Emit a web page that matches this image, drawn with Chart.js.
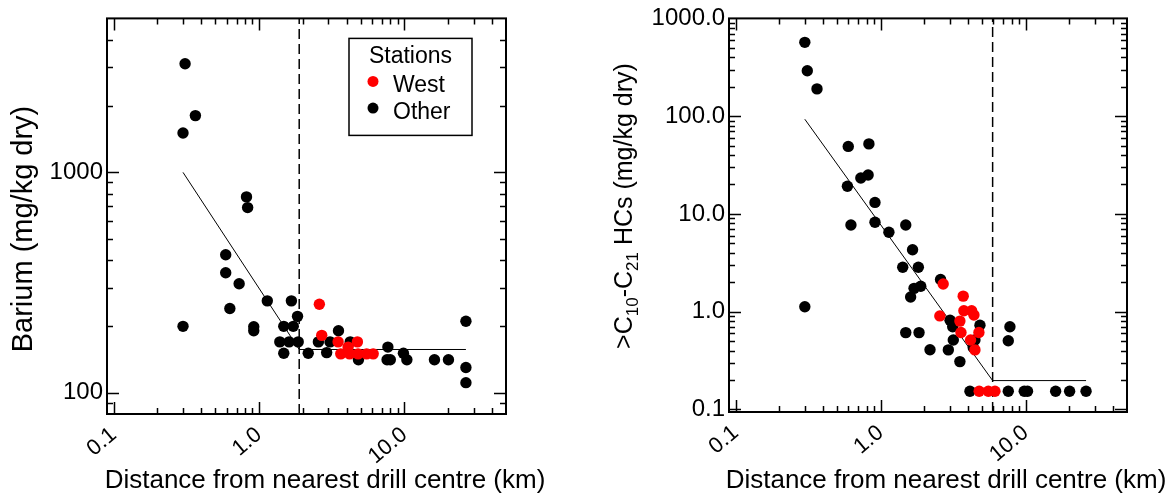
<!DOCTYPE html>
<html>
<head>
<meta charset="utf-8">
<title>Barium and hydrocarbons vs distance</title>
<script src="https://cdn.jsdelivr.net/npm/chart.js@4.4.1/dist/chart.umd.min.js"></script>
<style>
  html, body { margin: 0; padding: 0; background: #fff; }
  #wrap { position: relative; width: 1168px; height: 495px; overflow: hidden; }
  canvas { position: absolute; top: 0; }
  #barium { left: 0; }
  #hcs { left: 584px; }
</style>
</head>
<body>
<div id="wrap">
  <canvas id="barium" width="584" height="495"></canvas>
  <canvas id="hcs" width="584" height="495"></canvas>
</div>
<script>
// Barium (mg/kg dry) against distance (km)
var baWestX = [2.6, 2.7, 3.5, 3.65, 4.1, 4.2, 4.75, 4.8, 5.5, 6.1];
var baWestY = [252, 182, 170, 150, 161, 150, 170, 150, 150, 150];
var baOtherX = [0.30, 0.31, 0.365, 0.30, 0.59, 0.59, 0.63, 0.73, 0.82, 0.835, 0.92, 0.92,
  1.14, 1.39, 1.48, 1.48, 1.61, 1.67, 1.72, 1.84, 1.86, 2.18, 2.56, 2.92, 3.08, 3.52,
  4.24, 4.83, 7.7, 7.6, 8.0, 9.85, 10.4, 16.1, 20.1, 26.5, 26.5, 26.5];
var baOtherY = [1510, 3110, 1810, 200, 423, 350, 241, 312, 774, 692, 199, 191,
  261, 170, 200, 151, 170, 261, 200, 222, 170, 151, 170, 152, 170, 191,
  170, 141, 161, 141, 141, 151, 141, 141, 141, 211, 130, 111];
var baFitX = [0.3, 1.89, 26.5];
var baFitY = [1000, 157, 157];
var baCut = 1.89;

// >C10-C21 hydrocarbons (mg/kg dry) against distance (km)
var hcWestX = [2.70, 2.56, 3.52, 3.71, 3.75, 4.24, 4.40, 3.58, 4.76, 4.17, 4.47, 4.78, 5.53, 6.14];
var hcWestY = [1.92, 0.904, 0.80, 1.44, 1.02, 1.02, 0.925, 0.612, 0.612, 0.513, 0.406, 0.153, 0.153, 0.153];
var hcOtherX = [0.30, 0.312, 0.364, 0.598, 0.83, 0.73, 0.82, 0.59, 0.914, 0.624, 0.914, 1.14,
  1.49, 1.66, 1.42, 1.82, 1.70, 1.89, 1.61, 2.59, 0.30, 1.49, 1.84, 2.19, 2.93, 3.01,
  3.14, 3.17, 3.52, 4.84, 4.47, 4.35, 7.79, 7.59, 4.13, 7.59, 9.78, 10.3, 16.1, 20.1, 26.1];
var hcOtherY = [569, 291, 190, 49, 52, 23.3, 25, 19.2, 13.1, 7.7, 8.2, 6.49,
  7.7, 4.3, 2.84, 2.84, 1.73, 1.82, 1.41, 2.13, 1.12, 0.61, 0.61, 0.408, 0.406, 0.818,
  0.70, 0.513, 0.308, 0.727, 0.513, 0.43, 0.70, 0.504, 0.153, 0.153, 0.153, 0.153, 0.153, 0.153, 0.153];
var hcFitX = [0.3, 5.92, 26.1];
var hcFitY = [93, 0.197, 0.197];
var hcCut = 5.92;

// tick labels
var distTicks = [0.1, 1, 10];
var distLabels = ['0.1', '1.0', '10.0'];
var baTicks = [100, 1000];
var baLabels = ['100', '1000'];
var hcTicks = [0.1, 1, 10, 100, 1000];
var hcLabels = ['0.1', '1.0', '10.0', '100.0', '1000.0'];

var FONT = "'Liberation Sans', Arial, Helvetica, sans-serif";
var RED = '#ff0000';

function pts(xs, ys) {
  return xs.map(function (x, i) { return { x: x, y: ys[i] }; });
}

// every 1..9 x 10^n value inside the axis range, majors flagged
function logMarks(min, max) {
  var out = [];
  for (var e = Math.floor(Math.log10(min)); e <= Math.ceil(Math.log10(max)); e++) {
    for (var m = 1; m < 10; m++) {
      var v = m * Math.pow(10, e);
      if (v > min * 1.001 && v < max * 0.999) out.push({ v: v, major: m === 1 });
    }
  }
  return out;
}

// box round the plot area with inward tick marks on all four sides
var framePlugin = {
  id: 'frame',
  afterDraw: function (chart) {
    var a = chart.chartArea, ctx = chart.ctx;
    var xs = chart.scales.x, ys = chart.scales.y;
    ctx.save();
    ctx.strokeStyle = '#000';
    ctx.lineWidth = 1.5;
    ctx.beginPath();
    logMarks(xs.min, xs.max).forEach(function (t) {
      var p = Math.round(xs.getPixelForValue(t.v)) + 0.5;
      var len = t.major ? 12 : 6;
      ctx.moveTo(p, a.bottom); ctx.lineTo(p, a.bottom - len);
      ctx.moveTo(p, a.top); ctx.lineTo(p, a.top + len);
    });
    logMarks(ys.min, ys.max).forEach(function (t) {
      var p = Math.round(ys.getPixelForValue(t.v)) + 0.5;
      var len = t.major ? 12 : 6;
      ctx.moveTo(a.left, p); ctx.lineTo(a.left + len, p);
      ctx.moveTo(a.right, p); ctx.lineTo(a.right - len, p);
    });
    ctx.stroke();
    ctx.lineWidth = 2;
    ctx.strokeRect(a.left, a.top, a.right - a.left, a.bottom - a.top);
    ctx.restore();
  }
};

// framed legend with a title, built from the flagged datasets
var legendPlugin = {
  id: 'stationLegend',
  afterDraw: function (chart, args, o) {
    if (!o.show) return;
    var ctx = chart.ctx, a = chart.chartArea;
    var x = a.right - o.right - o.width, y = a.top + o.top;
    ctx.save();
    ctx.lineWidth = 1.5;
    ctx.strokeStyle = '#000';
    ctx.strokeRect(x, y, o.width, o.height);
    ctx.font = o.size + 'px ' + FONT;
    ctx.fillStyle = '#000';
    ctx.textBaseline = 'alphabetic';
    ctx.textAlign = 'center';
    ctx.fillText(o.title, x + o.width / 2, y + 25);
    ctx.textAlign = 'left';
    chart.data.datasets.filter(function (d) { return d.inLegend; }).forEach(function (d, i) {
      var cy = y + 43 + i * 26.7;
      ctx.fillStyle = d.backgroundColor;
      ctx.beginPath();
      ctx.arc(x + 24, cy, 5.5, 0, Math.PI * 2);
      ctx.fill();
      ctx.fillStyle = '#000';
      ctx.fillText(d.label, x + 44, cy + 10.7);
    });
    ctx.restore();
  }
};

// axis titles; the y title may carry subscripts
var titlePlugin = {
  id: 'axisTitles',
  afterDraw: function (chart, args, o) {
    var ctx = chart.ctx;
    ctx.save();
    ctx.fillStyle = '#000';
    ctx.textBaseline = 'alphabetic';
    ctx.font = o.xSize + 'px ' + FONT;
    ctx.textAlign = 'center';
    ctx.fillText(o.xText, o.xCenter, o.xBaseline);

    var big = o.ySize + 'px ' + FONT;
    var small = Math.round(o.ySize * 0.68) + 'px ' + FONT;
    var total = 0;
    o.yParts.forEach(function (p) {
      ctx.font = p.sub ? small : big;
      p.w = ctx.measureText(p.t).width;
      total += p.w;
    });
    ctx.translate(o.yBaseline, o.yCenter);
    ctx.rotate(-Math.PI / 2);
    ctx.textAlign = 'left';
    var cx = -total / 2;
    o.yParts.forEach(function (p) {
      ctx.font = p.sub ? small : big;
      ctx.fillText(p.t, cx, p.sub ? o.ySize * 0.25 : 0);
      cx += p.w;
    });
    ctx.restore();
  }
};

function buildChart(id, c) {
  var dot = { pointRadius: 5.7, pointHoverRadius: 5.7, borderWidth: 0, pointBorderWidth: 0 };
  return new Chart(document.getElementById(id), {
    type: 'scatter',
    data: {
      datasets: [
        Object.assign({ label: 'West', data: pts(c.westX, c.westY), backgroundColor: RED, inLegend: true, order: 0 }, dot),
        Object.assign({ label: 'Other', data: pts(c.otherX, c.otherY), backgroundColor: '#000', inLegend: true, order: 1 }, dot),
        { label: 'fit', data: pts(c.fitX, c.fitY), showLine: true, borderColor: '#000', borderWidth: 1,
          pointRadius: 0, order: 2 },
        { label: 'cut', data: [{ x: c.cut, y: c.yMin }, { x: c.cut, y: c.yMax }], showLine: true,
          borderColor: '#000', borderWidth: 1.5, borderDash: [10, 5], pointRadius: 0, order: 3 }
      ]
    },
    options: {
      responsive: false,
      animation: false,
      devicePixelRatio: 1,
      events: [],
      layout: { padding: { top: c.top, right: c.padRight, left: 0, bottom: 0 } },
      plugins: {
        legend: { display: false },
        tooltip: { enabled: false },
        stationLegend: { show: c.legend, title: 'Stations', size: 23, width: 123, height: 97, right: 34, top: 20 },
        axisTitles: c.titles
      },
      scales: {
        x: {
          type: 'logarithmic', min: 0.09, max: 50,
          grid: { display: false, drawTicks: false },
          border: { display: false },
          afterBuildTicks: function (s) { s.ticks = distTicks.map(function (v) { return { value: v }; }); },
          afterFit: function (s) { s.height = c.xAxisH; },
          ticks: {
            color: '#000', font: { family: FONT, size: 22 }, padding: 8, autoSkip: false,
            maxRotation: 40, minRotation: 40,
            callback: function (v) { return distLabels[distTicks.indexOf(v)]; }
          }
        },
        y: {
          type: 'logarithmic', min: c.yMin, max: c.yMax,
          grid: { display: false, drawTicks: false },
          border: { display: false },
          afterBuildTicks: function (s) { s.ticks = c.yTicks.map(function (v) { return { value: v }; }); },
          afterFit: function (s) { s.width = c.yAxisW; },
          ticks: {
            color: '#000', font: { family: FONT, size: 24 }, padding: 4, autoSkip: false,
            callback: function (v) { return c.yLabels[c.yTicks.indexOf(v)]; }
          }
        }
      }
    },
    plugins: [framePlugin, legendPlugin, titlePlugin]
  });
}

buildChart('barium', {
  westX: baWestX, westY: baWestY, otherX: baOtherX, otherY: baOtherY,
  fitX: baFitX, fitY: baFitY, cut: baCut,
  yMin: 80, yMax: 5000, yTicks: baTicks, yLabels: baLabels,
  top: 17, padRight: 78, yAxisW: 107, xAxisH: 81, legend: true,
  titles: {
    xText: 'Distance from nearest drill centre (km)', xSize: 26, xCenter: 325, xBaseline: 488,
    yParts: [{ t: 'Barium (mg/kg dry)' }], ySize: 29, yBaseline: 32, yCenter: 229
  }
});

buildChart('hcs', {
  westX: hcWestX, westY: hcWestY, otherX: hcOtherX, otherY: hcOtherY,
  fitX: hcFitX, fitY: hcFitY, cut: hcCut,
  yMin: 0.094, yMax: 1000, yTicks: hcTicks, yLabels: hcLabels,
  top: 15, padRight: 41, yAxisW: 145, xAxisH: 83, legend: false,
  titles: {
    xText: 'Distance from nearest drill centre (km)', xSize: 26, xCenter: 362, xBaseline: 488,
    yParts: [{ t: '>C' }, { t: '10', sub: true }, { t: '-C' }, { t: '21', sub: true }, { t: ' HCs (mg/kg dry)' }],
    ySize: 25, yBaseline: 48, yCenter: 206
  }
});
</script>
</body>
</html>
